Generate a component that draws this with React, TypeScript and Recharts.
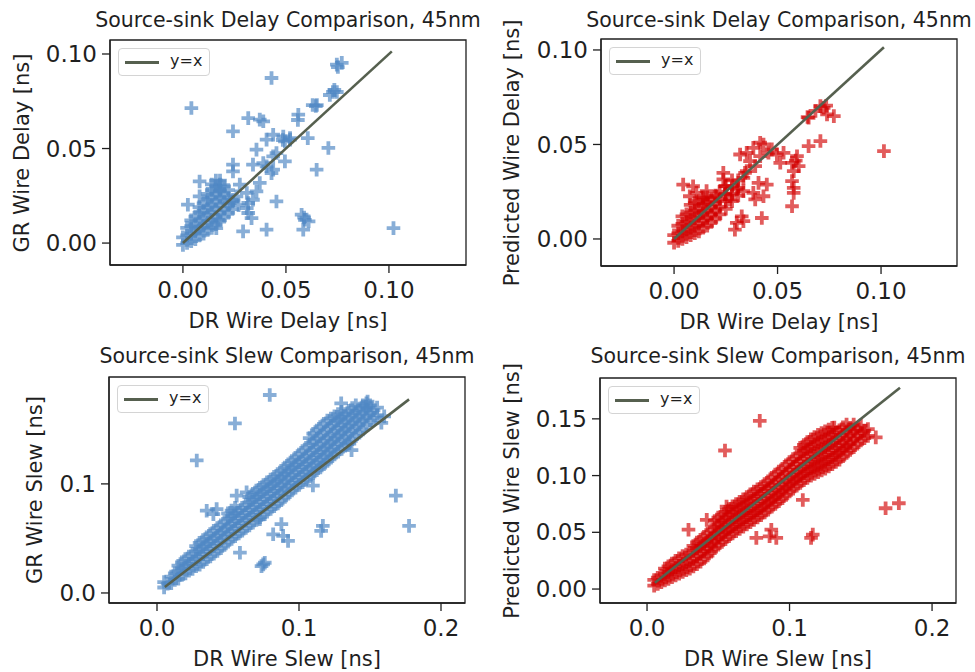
import React from 'react';
import { ScatterChart, Scatter, XAxis, YAxis, ReferenceArea } from 'recharts';

type Pt = [number, number];
type Column = [number, number[]];

// tick values
const delayTicks = [0, 0.05, 0.1];
const slewXTicks = [0, 0.1, 0.2];
const grSlewYTicks = [0, 0.1];
const predSlewYTicks = [0, 0.05, 0.1, 0.15];

// y=x reference segments (min..max DR value)
const delayLine: Pt[] = [[0, 0], [0.1014, 0.1014]];
const slewLine: Pt[] = [[0.0055, 0.0055], [0.1775, 0.1775]];

// DR vs GR wire delay: scattered points
const grDelaySparse: Pt[] = [
  [0.0747, 0.0944], [0.0771, 0.0953], [0.0752, 0.0931], [0.043, 0.0873], [0.0041, 0.0714],
  [0.0317, 0.0661], [0.039, 0.0644], [0.0373, 0.0653], [0.056, 0.0679], [0.0558, 0.0651],
  [0.0728, 0.0799], [0.0747, 0.0799], [0.0713, 0.0783], [0.0735, 0.081],
  [0.065, 0.073], [0.063, 0.073], [0.0645, 0.0725], [0.0243, 0.0591],
  [0.0406, 0.0547], [0.0438, 0.0573], [0.0487, 0.0564], [0.0495, 0.0538], [0.052, 0.0547],
  [0.0485, 0.0545], [0.052, 0.0555], [0.0606, 0.0555], [0.0706, 0.0503], [0.0649, 0.0388],
  [0.0495, 0.0432], [0.0454, 0.0476], [0.0438, 0.0459], [0.0357, 0.0494],
  [0.0243, 0.0415], [0.0243, 0.0379], [0.034, 0.0415], [0.039, 0.0423], [0.0406, 0.0406],
  [0.0438, 0.0388], [0.043, 0.037], [0.0373, 0.0318], [0.0276, 0.0309], [0.031, 0.0265],
  [0.0357, 0.0273], [0.034, 0.0229], [0.0454, 0.022], [0.0081, 0.0326], [0.0024, 0.0203],
  [0.0317, 0.0212], [0.031, 0.0185], [0.0317, 0.0159], [0.0333, 0.0132],
  [0.0292, 0.0062], [0.0406, 0.0071], [0.017, 0.0123], [0.0162, 0.0079],
  [0.0576, 0.015], [0.0592, 0.0123], [0.0584, 0.0071], [0.061, 0.0115], [0.0588, 0.0135],
  [0.1022, 0.0079], [0.0081, 0.0247], [0.0227, 0.0212], [0.0243, 0.0229], [0.026, 0.0247],
  [0.0179, 0.03], [0.0179, 0.0273],
];

// DR vs GR wire delay: dense cluster near the origin, by DR column
const grDelayCore: Column[] = [
  [0.0, [-0.001, 0.003]],
  [0.002, [0.0, 0.004, 0.008]],
  [0.004, [0.001, 0.005, 0.009, 0.012]],
  [0.006, [0.002, 0.006, 0.01, 0.014]],
  [0.008, [0.004, 0.008, 0.012, 0.016, 0.019]],
  [0.01, [0.005, 0.009, 0.013, 0.017, 0.021]],
  [0.012, [0.007, 0.011, 0.015, 0.019, 0.023, 0.026]],
  [0.014, [0.008, 0.012, 0.016, 0.02, 0.024, 0.028, 0.031]],
  [0.016, [0.01, 0.014, 0.018, 0.022, 0.026, 0.03, 0.033]],
  [0.018, [0.012, 0.016, 0.02, 0.024, 0.028, 0.031, 0.033]],
  [0.02, [0.014, 0.018, 0.022, 0.026, 0.03]],
  [0.022, [0.016, 0.02, 0.024, 0.028]],
  [0.024, [0.018, 0.022]],
  [0.027, [0.02]],
];

// DR vs predicted wire delay
const predDelaySparse: Pt[] = [
  [0.1014, 0.0465], [0.065, 0.0641], [0.0707, 0.0703], [0.0739, 0.0659], [0.0772, 0.065],
  [0.0683, 0.0677], [0.0723, 0.0694], [0.0645, 0.0645], [0.0735, 0.0705],
  [0.065, 0.0491], [0.0707, 0.0518], [0.0594, 0.0438], [0.057, 0.0403], [0.0602, 0.0385],
  [0.0578, 0.0359], [0.057, 0.0306], [0.0578, 0.027], [0.0578, 0.0244], [0.057, 0.0173],
  [0.0588, 0.0415], [0.0497, 0.0447], [0.0529, 0.0456], [0.0513, 0.0403],
  [0.0383, 0.0482], [0.0432, 0.05], [0.0456, 0.0456], [0.0416, 0.0438], [0.0472, 0.0474],
  [0.0416, 0.0509], [0.0319, 0.0447], [0.0351, 0.0456], [0.0392, 0.0385], [0.0367, 0.0412],
  [0.0343, 0.035], [0.0351, 0.0359], [0.0335, 0.0323], [0.0238, 0.035], [0.0238, 0.0315],
  [0.0246, 0.0279], [0.0335, 0.0253], [0.0383, 0.0244], [0.0392, 0.0209], [0.0432, 0.0226],
  [0.0448, 0.0288], [0.0408, 0.0297], [0.0327, 0.012], [0.0303, 0.0085], [0.0294, 0.0049],
  [0.0335, 0.0094], [0.0424, 0.0111], [0.0044, 0.0288], [0.0092, 0.0279], [0.0076, 0.0226],
  [0.0108, 0.0244], [0.0141, 0.0209], [0.0157, 0.0253], [0.0205, 0.0226], [0.027, 0.0209],
  [0.0303, 0.0262], [0.0246, 0.0235],
];

const predDelayCore: Column[] = [
  [0.0, [-0.002, 0.002]],
  [0.002, [-0.001, 0.003, 0.007]],
  [0.004, [0.0, 0.004, 0.008, 0.012]],
  [0.006, [0.001, 0.005, 0.009, 0.013]],
  [0.008, [0.002, 0.006, 0.01, 0.014, 0.018]],
  [0.01, [0.003, 0.007, 0.011, 0.015, 0.019]],
  [0.012, [0.004, 0.008, 0.012, 0.016, 0.02]],
  [0.014, [0.006, 0.01, 0.014, 0.018, 0.022]],
  [0.016, [0.007, 0.011, 0.015, 0.019, 0.022]],
  [0.018, [0.009, 0.013, 0.017, 0.021]],
  [0.02, [0.011, 0.015, 0.019, 0.023]],
  [0.022, [0.013, 0.017, 0.021, 0.025]],
  [0.025, [0.016, 0.02, 0.024, 0.028]],
  [0.028, [0.02, 0.024, 0.028, 0.031]],
  [0.031, [0.023, 0.027, 0.031]],
];

// DR vs GR wire slew
const grSlewSparse: Pt[] = [
  [0.0794, 0.1815], [0.0549, 0.1554], [0.028, 0.1215], [0.1297, 0.1738], [0.1483, 0.1754],
  [0.1472, 0.1708], [0.1682, 0.0892], [0.1775, 0.0615], [0.1098, 0.0985], [0.1168, 0.0615],
  [0.1156, 0.0569], [0.0876, 0.0631], [0.0818, 0.0538], [0.0888, 0.0523], [0.0923, 0.0477],
  [0.0748, 0.0262], [0.0759, 0.0277], [0.0736, 0.0246], [0.0584, 0.0369],
  [0.035, 0.0754], [0.042, 0.0769], [0.0397, 0.0723], [0.0561, 0.0892], [0.0631, 0.0923],
  [0.0724, 0.0677], [0.16, 0.162], [0.158, 0.156], [0.1355, 0.137], [0.137, 0.131],
];

const grSlewCore: Column[] = [
  [0.005, [0.005, 0.01]],
  [0.0075, [0.0085]],
  [0.01, [0.009, 0.015]],
  [0.0125, [0.012, 0.018]],
  [0.015, [0.013, 0.02, 0.025]],
  [0.0175, [0.0165, 0.0225, 0.028]],
  [0.02, [0.018, 0.025, 0.031]],
  [0.0225, [0.0205, 0.027, 0.0335]],
  [0.025, [0.022, 0.029, 0.036]],
  [0.0275, [0.0245, 0.031, 0.038, 0.043]],
  [0.03, [0.026, 0.033, 0.04, 0.046]],
  [0.0325, [0.0285, 0.0355, 0.0425, 0.0485]],
  [0.035, [0.031, 0.038, 0.045, 0.051]],
  [0.0375, [0.0335, 0.0405, 0.0475, 0.054]],
  [0.04, [0.036, 0.043, 0.05, 0.057]],
  [0.0425, [0.0385, 0.0455, 0.0525, 0.0595]],
  [0.045, [0.041, 0.048, 0.055, 0.062]],
  [0.0475, [0.044, 0.051, 0.058, 0.065]],
  [0.05, [0.047, 0.054, 0.061, 0.068, 0.073]],
  [0.0525, [0.0495, 0.0565, 0.0635, 0.0705, 0.0755]],
  [0.055, [0.052, 0.059, 0.066, 0.073, 0.078]],
  [0.0575, [0.0545, 0.0615, 0.0685, 0.0755]],
  [0.06, [0.057, 0.064, 0.071, 0.078]],
  [0.0625, [0.0595, 0.0665, 0.0735, 0.0805]],
  [0.065, [0.062, 0.069, 0.076, 0.083, 0.088]],
  [0.0675, [0.0645, 0.0715, 0.0785, 0.0855, 0.091]],
  [0.07, [0.067, 0.074, 0.081, 0.088, 0.094]],
  [0.0725, [0.0695, 0.0765, 0.0835, 0.0905, 0.0965]],
  [0.075, [0.072, 0.079, 0.086, 0.093, 0.099]],
  [0.0775, [0.0745, 0.0815, 0.0885, 0.0955, 0.1015]],
  [0.08, [0.077, 0.084, 0.091, 0.098, 0.104]],
  [0.0825, [0.0795, 0.0865, 0.0935, 0.1005, 0.1065]],
  [0.085, [0.082, 0.089, 0.096, 0.103, 0.109]],
  [0.0875, [0.085, 0.092, 0.099, 0.106, 0.112]],
  [0.09, [0.088, 0.095, 0.102, 0.109, 0.115]],
  [0.0925, [0.091, 0.098, 0.105, 0.112, 0.118]],
  [0.095, [0.094, 0.101, 0.108, 0.115, 0.121]],
  [0.0975, [0.0965, 0.1035, 0.1105, 0.1175, 0.124]],
  [0.1, [0.099, 0.106, 0.113, 0.12, 0.127]],
  [0.1025, [0.1015, 0.1085, 0.1155, 0.1225, 0.13]],
  [0.105, [0.104, 0.111, 0.118, 0.125, 0.133]],
  [0.1075, [0.107, 0.114, 0.121, 0.128, 0.136, 0.142]],
  [0.11, [0.11, 0.117, 0.124, 0.131, 0.139, 0.146]],
  [0.1125, [0.1125, 0.1195, 0.1265, 0.1335, 0.1415, 0.149]],
  [0.115, [0.115, 0.122, 0.129, 0.136, 0.144, 0.152]],
  [0.1175, [0.118, 0.125, 0.132, 0.139, 0.147, 0.155]],
  [0.12, [0.121, 0.128, 0.135, 0.142, 0.15, 0.158]],
  [0.1225, [0.124, 0.131, 0.138, 0.145, 0.153, 0.16]],
  [0.125, [0.127, 0.134, 0.141, 0.148, 0.156, 0.162]],
  [0.1275, [0.1295, 0.137, 0.144, 0.151, 0.1585, 0.164]],
  [0.13, [0.132, 0.14, 0.147, 0.154, 0.161, 0.166]],
  [0.1325, [0.135, 0.143, 0.15, 0.157, 0.164]],
  [0.135, [0.138, 0.146, 0.153, 0.16, 0.167]],
  [0.1375, [0.141, 0.149, 0.156, 0.163, 0.1695]],
  [0.14, [0.144, 0.152, 0.159, 0.166, 0.172]],
  [0.1425, [0.147, 0.155, 0.162, 0.169]],
  [0.145, [0.15, 0.158, 0.165, 0.172]],
  [0.1475, [0.154, 0.1615, 0.1685, 0.174]],
  [0.15, [0.158, 0.165, 0.172]],
  [0.1525, [0.1605, 0.1675]],
  [0.155, [0.163, 0.17]],
];

// DR vs predicted wire slew
const predSlewSparse: Pt[] = [
  [0.0791, 0.1483], [0.0547, 0.1221], [0.1605, 0.1337], [0.1674, 0.0712], [0.1767, 0.0756],
  [0.1093, 0.0785], [0.1163, 0.048], [0.1151, 0.0451], [0.0872, 0.0523], [0.0767, 0.0451],
  [0.0907, 0.0451], [0.086, 0.0465], [0.0291, 0.0523], [0.0419, 0.061], [0.1314, 0.1424],
  [0.0558, 0.0727],
];

const predSlewCore: Column[] = [
  [0.005, [0.003, 0.008]],
  [0.0075, [0.0045, 0.01]],
  [0.01, [0.006, 0.012]],
  [0.0125, [0.0075, 0.0135, 0.018]],
  [0.015, [0.009, 0.015, 0.02]],
  [0.0175, [0.0105, 0.017, 0.0225]],
  [0.02, [0.012, 0.019, 0.025]],
  [0.0225, [0.0135, 0.0205, 0.027]],
  [0.025, [0.015, 0.022, 0.029]],
  [0.0275, [0.0165, 0.0235, 0.0305]],
  [0.03, [0.018, 0.025, 0.032]],
  [0.0325, [0.02, 0.027, 0.034, 0.038]],
  [0.035, [0.022, 0.029, 0.036, 0.041]],
  [0.0375, [0.024, 0.031, 0.038, 0.0435]],
  [0.04, [0.027, 0.033, 0.04, 0.046]],
  [0.0425, [0.0295, 0.0355, 0.0425, 0.049]],
  [0.045, [0.033, 0.038, 0.045, 0.052]],
  [0.0475, [0.036, 0.0415, 0.0485, 0.0545, 0.06]],
  [0.05, [0.039, 0.045, 0.051, 0.057, 0.063]],
  [0.0525, [0.0415, 0.048, 0.054, 0.06, 0.0655]],
  [0.055, [0.044, 0.05, 0.056, 0.063, 0.068]],
  [0.0575, [0.0465, 0.0525, 0.0585, 0.0655, 0.0705]],
  [0.06, [0.049, 0.055, 0.061, 0.068, 0.073]],
  [0.0625, [0.051, 0.057, 0.063, 0.07, 0.075]],
  [0.065, [0.053, 0.059, 0.065, 0.072, 0.077]],
  [0.0675, [0.055, 0.061, 0.067, 0.074, 0.079]],
  [0.07, [0.057, 0.063, 0.069, 0.076, 0.081]],
  [0.0725, [0.059, 0.065, 0.071, 0.078, 0.0835]],
  [0.075, [0.061, 0.067, 0.073, 0.08, 0.086]],
  [0.0775, [0.063, 0.069, 0.075, 0.082, 0.088]],
  [0.08, [0.065, 0.071, 0.077, 0.084, 0.09]],
  [0.0825, [0.0675, 0.0735, 0.0795, 0.0865, 0.0925]],
  [0.085, [0.07, 0.076, 0.082, 0.089, 0.095]],
  [0.0875, [0.0725, 0.0785, 0.0845, 0.0915, 0.098]],
  [0.09, [0.075, 0.081, 0.087, 0.094, 0.101]],
  [0.0925, [0.0775, 0.0835, 0.0895, 0.0965, 0.1035]],
  [0.095, [0.08, 0.086, 0.092, 0.099, 0.106]],
  [0.0975, [0.083, 0.089, 0.095, 0.102, 0.109]],
  [0.1, [0.086, 0.092, 0.098, 0.105, 0.112]],
  [0.1025, [0.0885, 0.0945, 0.1005, 0.1075, 0.1145]],
  [0.105, [0.091, 0.097, 0.103, 0.11, 0.117]],
  [0.1075, [0.0935, 0.0995, 0.1055, 0.1125, 0.1195, 0.1245]],
  [0.11, [0.096, 0.102, 0.108, 0.115, 0.122, 0.127]],
  [0.1125, [0.098, 0.104, 0.11, 0.117, 0.124, 0.1295]],
  [0.115, [0.1, 0.106, 0.112, 0.119, 0.126, 0.132]],
  [0.1175, [0.1015, 0.1075, 0.1135, 0.1205, 0.1275, 0.134]],
  [0.12, [0.103, 0.109, 0.115, 0.122, 0.129, 0.136]],
  [0.1225, [0.1045, 0.1105, 0.1165, 0.1235, 0.1305, 0.1375]],
  [0.125, [0.106, 0.112, 0.118, 0.125, 0.132, 0.139]],
  [0.1275, [0.108, 0.114, 0.12, 0.127, 0.134, 0.1405]],
  [0.13, [0.11, 0.116, 0.122, 0.129, 0.136, 0.142]],
  [0.1325, [0.112, 0.118, 0.124, 0.131, 0.138]],
  [0.135, [0.114, 0.12, 0.126, 0.133, 0.14]],
  [0.1375, [0.117, 0.123, 0.129, 0.136, 0.1425]],
  [0.14, [0.12, 0.126, 0.132, 0.139, 0.145]],
  [0.1425, [0.1225, 0.1285, 0.1355, 0.142]],
  [0.145, [0.125, 0.132, 0.139, 0.145]],
  [0.1475, [0.128, 0.135, 0.1415]],
  [0.15, [0.131, 0.138, 0.144]],
  [0.1525, [0.133, 0.1395]],
  [0.155, [0.135, 0.141]],
];

const FONT = '"DejaVu Sans", sans-serif';
const TEXT = '#1f1f1f';
const BLUE = '#5088c4';
const RED = '#d10000';
const LINE = '#56604f';

const toObjs = (pts: Pt[]) => pts.map(([x, y]) => ({ x, y }));
const fromColumns = (cols: Column[]) => cols.flatMap(([x, ys]) => ys.map((y) => ({ x, y })));

const makePlus = (opacity: number) => (props: any) => {
  const { cx, cy, fill } = props;
  if (cx == null || cy == null) return <g />;
  const a = 6.8;
  return (
    <path
      d={`M${cx - a},${cy}H${cx + a}M${cx},${cy - a}V${cy + a}`}
      stroke={fill}
      strokeWidth={3.8}
      strokeOpacity={opacity}
      fill="none"
    />
  );
};

const bluePlus = makePlus(0.68);
const redPlus = makePlus(0.64);

type PanelProps = {
  left: number;
  top: number;
  plot: { l: number; t: number; r: number; b: number };
  xDomain: [number, number];
  yDomain: [number, number];
  xTicks: number[];
  yTicks: number[];
  xDigits: number;
  yDigits: number;
  points: { x: number; y: number }[];
  color: string;
  marker: (props: any) => React.ReactElement;
  line: Pt[];
  title: string;
  xLabel: string;
  yLabel: string;
  yLabelX: number;
};

const W = 487;
const H = 336;
const YW = 60;
const XH = 40;

function Panel(p: PanelProps) {
  const cxPlot = (p.plot.l + p.plot.r) / 2;
  const cyPlot = (p.plot.t + p.plot.b) / 2;
  const tickStyle = { fill: TEXT, fontSize: 23, fontFamily: FONT };
  return (
    <div style={{ position: 'absolute', left: p.left, top: p.top, width: W, height: H }}>
      <ScatterChart
        width={W}
        height={H}
        margin={{ top: p.plot.t, right: W - p.plot.r, bottom: H - p.plot.b - XH, left: p.plot.l - YW }}
      >
        <XAxis
          type="number"
          dataKey="x"
          domain={p.xDomain}
          allowDataOverflow
          ticks={p.xTicks}
          tickFormatter={(v: number) => v.toFixed(p.xDigits)}
          tick={tickStyle}
          tickSize={8}
          tickMargin={9}
          height={XH}
          stroke={TEXT}
          strokeWidth={1.3}
        />
        <YAxis
          type="number"
          dataKey="y"
          domain={p.yDomain}
          allowDataOverflow
          ticks={p.yTicks}
          tickFormatter={(v: number) => v.toFixed(p.yDigits)}
          tick={tickStyle}
          tickSize={8}
          tickMargin={5}
          width={YW}
          stroke={TEXT}
          strokeWidth={1.3}
        />
        <Scatter data={p.points} fill={p.color} shape={p.marker} isAnimationActive={false} />
        <Scatter
          data={toObjs(p.line)}
          line={{ stroke: LINE, strokeWidth: 2.6 }}
          shape={() => <g />}
          isAnimationActive={false}
        />
        <ReferenceArea
          x1={p.xDomain[0]}
          x2={p.xDomain[1]}
          y1={p.yDomain[0]}
          y2={p.yDomain[1]}
          fill="none"
          fillOpacity={0}
          stroke={TEXT}
          strokeWidth={1.3}
        />
      </ScatterChart>
      <div
        style={{
          position: 'absolute', left: cxPlot, top: 20, transform: 'translate(-50%, -50%)',
          fontSize: 20.5, whiteSpace: 'nowrap', color: TEXT, fontFamily: FONT,
        }}
      >
        {p.title}
      </div>
      <div
        style={{
          position: 'absolute', left: cxPlot, top: p.plot.b + 56, transform: 'translate(-50%, -50%)',
          fontSize: 21, whiteSpace: 'nowrap', color: TEXT, fontFamily: FONT,
        }}
      >
        {p.xLabel}
      </div>
      <div
        style={{
          position: 'absolute', left: p.yLabelX, top: cyPlot,
          transform: 'translate(-50%, -50%) rotate(-90deg)',
          fontSize: 21, whiteSpace: 'nowrap', color: TEXT, fontFamily: FONT,
        }}
      >
        {p.yLabel}
      </div>
      <div
        style={{
          position: 'absolute', left: p.plot.l + 8, top: p.plot.t + 8, width: 90, height: 26,
          border: '1px solid #d4d4d4', borderRadius: 4, background: 'rgba(255,255,255,0.85)',
        }}
      >
        <div style={{ position: 'absolute', left: 6, top: 12, width: 34, height: 3, background: LINE }} />
        <div
          style={{
            position: 'absolute', left: 51, top: 2, fontSize: 16, color: TEXT, fontFamily: FONT,
          }}
        >
          y=x
        </div>
      </div>
    </div>
  );
}

export default function App() {
  return (
    <div style={{ position: 'absolute', left: 0, top: 0, width: 975, height: 672, background: '#fff', overflow: 'hidden' }}>
      <Panel
        left={0}
        top={0}
        plot={{ l: 110, t: 40, r: 466, b: 265 }}
        xDomain={[-0.0354, 0.1374]}
        yDomain={[-0.0116, 0.1074]}
        xTicks={delayTicks}
        yTicks={delayTicks}
        xDigits={2}
        yDigits={2}
        points={[...fromColumns(grDelayCore), ...toObjs(grDelaySparse)]}
        color={BLUE}
        marker={bluePlus}
        line={delayLine}
        title="Source-sink Delay Comparison, 45nm"
        xLabel="DR Wire Delay [ns]"
        yLabel="GR Wire Delay [ns]"
        yLabelX={22}
      />
      <Panel
        left={486}
        top={0}
        plot={{ l: 115, t: 39, r: 471, b: 266 }}
        xDomain={[-0.0353, 0.1367]}
        yDomain={[-0.0143, 0.1058]}
        xTicks={delayTicks}
        yTicks={delayTicks}
        xDigits={2}
        yDigits={2}
        points={[...fromColumns(predDelayCore), ...toObjs(predDelaySparse)]}
        color={RED}
        marker={redPlus}
        line={delayLine}
        title="Source-sink Delay Comparison, 45nm"
        xLabel="DR Wire Delay [ns]"
        yLabel="Predicted Wire Delay [ns]"
        yLabelX={26}
      />
      <Panel
        left={0}
        top={336}
        plot={{ l: 109, t: 41, r: 465, b: 267 }}
        xDomain={[-0.0338, 0.2169]}
        yDomain={[-0.0092, 0.198]}
        xTicks={slewXTicks}
        yTicks={grSlewYTicks}
        xDigits={1}
        yDigits={1}
        points={[...fromColumns(grSlewCore), ...toObjs(grSlewSparse)]}
        color={BLUE}
        marker={bluePlus}
        line={slewLine}
        title="Source-sink Slew Comparison, 45nm"
        xLabel="DR Wire Slew [ns]"
        yLabel="GR Wire Slew [ns]"
        yLabelX={35}
      />
      <Panel
        left={486}
        top={336}
        plot={{ l: 114, t: 42, r: 470, b: 267 }}
        xDomain={[-0.033, 0.2168]}
        yDomain={[-0.0123, 0.186]}
        xTicks={slewXTicks}
        yTicks={predSlewYTicks}
        xDigits={1}
        yDigits={2}
        points={[...fromColumns(predSlewCore), ...toObjs(predSlewSparse)]}
        color={RED}
        marker={redPlus}
        line={slewLine}
        title="Source-sink Slew Comparison, 45nm"
        xLabel="DR Wire Slew [ns]"
        yLabel="Predicted Wire Slew [ns]"
        yLabelX={26}
      />
    </div>
  );
}
